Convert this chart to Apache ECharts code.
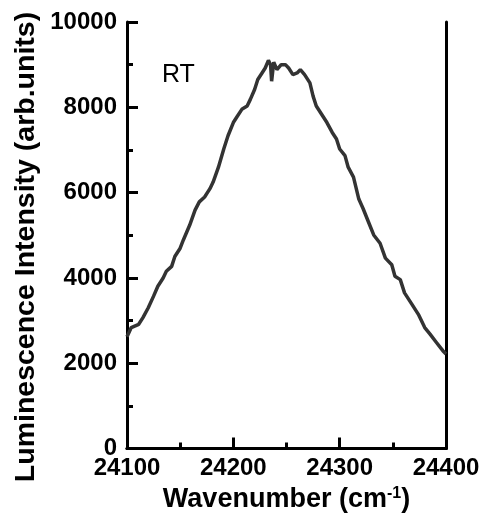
<!DOCTYPE html>
<html>
<head>
<meta charset="utf-8">
<script src="https://cdn.jsdelivr.net/npm/echarts@6/dist/echarts.min.js"></script>
<style>html,body{margin:0;padding:0;background:#fff}#c{width:486px;height:518px}</style>
</head>
<body>
<div id="c"></div>
<script>
const wavenumber = [24100,24104,24111,24115,24120,24125,24129,24134,24137,24142,24145,24150,24153,24159,24164,24168,24173,24178,24181,24186,24191,24195,24200,24203,24208,24213,24216,24220,24223,24227,24230,24233,24235,24236,24238,24241,24245,24249,24252,24256,24260,24263,24267,24272,24275,24278,24283,24288,24293,24297,24300,24305,24308,24313,24318,24322,24327,24332,24338,24343,24349,24352,24357,24361,24368,24374,24380,24385,24391,24397,24400];
const intensity = [2620,2837,2914,3070,3302,3574,3806,4000,4155,4272,4504,4698,4891,5240,5589,5783,5899,6093,6248,6597,7023,7333,7643,7760,7953,8031,8186,8419,8651,8806,8922,9100,9000,8612,9060,8884,9000,9000,8922,8767,8806,8884,8767,8574,8263,8031,7837,7643,7411,7256,7023,6868,6597,6364,5850,5628,5318,5008,4814,4465,4310,4039,3961,3651,3380,3147,2837,2682,2488,2295,2217];
const xTicks = [24100,24200,24300,24400];
const yTicks = [0,2000,4000,6000,8000,10000];
const label = 'RT';
const xTitle = 'Wavenumber (cm{sup|-1})';
const yTitle = 'Luminescence Intensity (arb.units)';

const FONT = 'Liberation Sans, Arial, sans-serif';
const chart = echarts.init(document.getElementById('c'), null, {renderer:'canvas'});
const axisLine = {show:true, lineStyle:{color:'#000', width:3}};
chart.setOption({
  animation:false,
  grid:{left:127, top:22, right:40, bottom:66, containLabel:false},
  xAxis:[{
    type:'value', min:xTicks[0], max:xTicks[xTicks.length-1], interval:100,
    axisLine:axisLine,
    axisTick:{show:true, inside:true, length:11, lineStyle:{color:'#000', width:3}},
    minorTick:{show:true, splitNumber:2, length:6, lineStyle:{color:'#000', width:3}},
    splitLine:{show:false},
    axisLabel:{fontFamily:FONT, fontWeight:'bold', fontSize:24, color:'#000', margin:8, formatter:v=>String(v)},
    name:xTitle, nameLocation:'middle', nameGap:36,
    nameTextStyle:{fontFamily:FONT, fontWeight:'bold', fontSize:27, color:'#000',
      rich:{sup:{fontFamily:FONT, fontWeight:'bold', fontSize:16, color:'#000', verticalAlign:'top', padding:[0,0,12,0]}}}
  },{
    type:'value', position:'top', min:xTicks[0], max:xTicks[xTicks.length-1],
    axisLine:axisLine, axisTick:{show:false}, axisLabel:{show:false}, splitLine:{show:false}
  }],
  yAxis:[{
    type:'value', min:yTicks[0], max:yTicks[yTicks.length-1], interval:2000,
    axisLine:axisLine,
    axisTick:{show:true, inside:true, length:11, lineStyle:{color:'#000', width:3}},
    minorTick:{show:true, splitNumber:2, length:6, lineStyle:{color:'#000', width:3}},
    splitLine:{show:false},
    axisLabel:{fontFamily:FONT, fontWeight:'bold', fontSize:24, color:'#000', margin:10, formatter:v=>String(v)}
  },{
    type:'value', position:'right', min:0, max:10000,
    axisLine:axisLine, axisTick:{show:false}, axisLabel:{show:false}, splitLine:{show:false}
  }],
  graphic:[
    {type:'text', x:26, y:247, rotation:Math.PI/2,
     style:{text:yTitle, align:'center', verticalAlign:'middle', fill:'#000', font:'bold 28.5px "Liberation Sans", Arial, sans-serif'}},
    {type:'text', x:162, y:75,
     style:{text:label, align:'left', verticalAlign:'middle', fill:'#000', font:'25px "Liberation Sans", Arial, sans-serif'}}
  ],
  series:[{
    type:'line', showSymbol:false, symbol:'none',
    data: wavenumber.map((w,i)=>[w,intensity[i]]),
    lineStyle:{color:'#333', width:3.5}
  }]
});
</script>
</body>
</html>
